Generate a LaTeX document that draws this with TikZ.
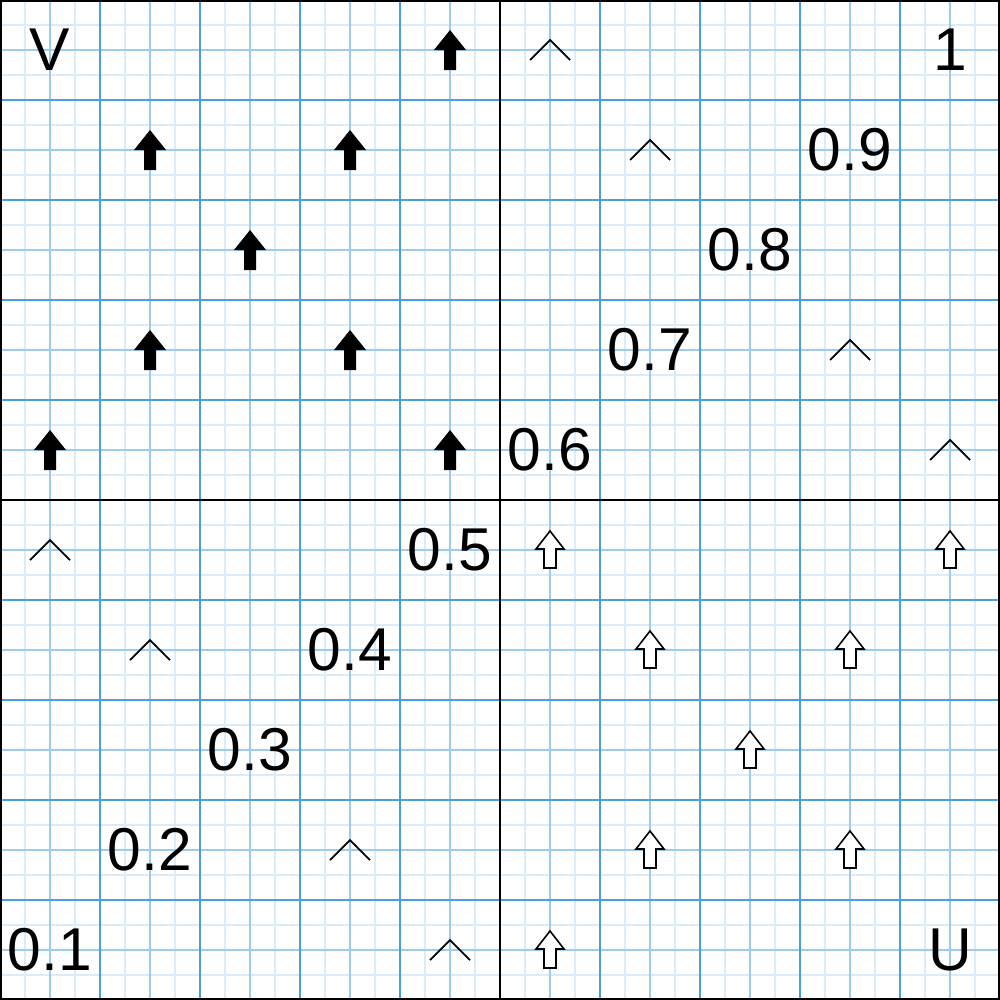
\documentclass[tikz,border=0pt]{standalone}
\usepackage{fontspec}
\setmainfont{Liberation Sans}
\definecolor{gmajor}{HTML}{4A9FE0}
\definecolor{gmed}{HTML}{9CCBEE}
\definecolor{gfaint}{HTML}{DCEBF8}
\begin{document}
\begin{tikzpicture}[x=0.01cm,y=-0.01cm,
  faintline/.style={draw=gfaint,line width=0.43pt},
  medline/.style={draw=gmed,line width=0.45pt},
  majorline/.style={draw=gmajor,line width=0.6pt},
  axisline/.style={draw=black,line width=0.6pt},
  lbl/.style={font=\fontsize{17.2}{19}\selectfont,inner sep=0pt,anchor=center},
  fillarrow/.style={fill=black,draw=none},
  openarrow/.style={fill=white,draw=black,line width=0.45pt,line join=miter},
  caret/.style={draw=black,line width=0.5pt}]
\useasboundingbox (0,0) rectangle (1000,1000);
\fill[white] (0,0) rectangle (1000,1000);
% grid
\foreach \i in {25,75,...,975} {
  \draw[faintline] (\i,0) -- (\i,1000);
  \draw[faintline] (0,\i) -- (1000,\i);
}
\foreach \i in {50,150,...,950} {
  \draw[medline] (\i,0) -- (\i,1000);
  \draw[medline] (0,\i) -- (1000,\i);
}
\foreach \i in {100,200,300,400,600,700,800,900} {
  \draw[majorline] (\i,0) -- (\i,1000);
  \draw[majorline] (0,\i) -- (1000,\i);
}
\draw[axisline] (500,0) -- (500,1000);
\draw[axisline] (0,500) -- (1000,500);
\draw[draw=black,line width=1pt] (0,0) rectangle (1000,1000);
% filled arrows
\foreach \cx/\cy in {450/50,150/150,350/150,250/250,150/350,350/350,50/450,450/450} {
  \fill[fillarrow] (\cx,\cy-20) -- (\cx+16,\cy) -- (\cx+6,\cy) -- (\cx+6,\cy+20)
    -- (\cx-6,\cy+20) -- (\cx-6,\cy) -- (\cx-16,\cy) -- cycle;
}
% open arrows
\foreach \cx/\cy in {550/550,950/550,650/650,850/650,750/750,650/850,850/850,550/950} {
  \filldraw[openarrow] (\cx,\cy-19) -- (\cx+14,\cy-1) -- (\cx+6,\cy-1) -- (\cx+6,\cy+18)
    -- (\cx-6,\cy+18) -- (\cx-6,\cy-1) -- (\cx-14,\cy-1) -- cycle;
}
% carets
\foreach \cx/\cy in {550/50,650/150,850/350,950/450,50/550,150/650,350/850,450/950} {
  \draw[caret] (\cx-20,\cy+10) -- (\cx,\cy-10) -- (\cx+20,\cy+10);
}
% labels
\node[lbl] (lV) at (50,50) {V};
\node[lbl] (l1) at (950,50) {1};
\node[lbl] (l09) at (850,150) {0.9};
\node[lbl] (l08) at (750,250) {0.8};
\node[lbl] (l07) at (650,350) {0.7};
\node[lbl] (l06) at (550,450) {0.6};
\node[lbl] (l05) at (450,550) {0.5};
\node[lbl] (l04) at (350,650) {0.4};
\node[lbl] (l03) at (250,750) {0.3};
\node[lbl] (l02) at (150,850) {0.2};
\node[lbl] (l01) at (50,950) {0.1};
\node[lbl] (lU) at (950,950) {U};
\end{tikzpicture}
\end{document}
